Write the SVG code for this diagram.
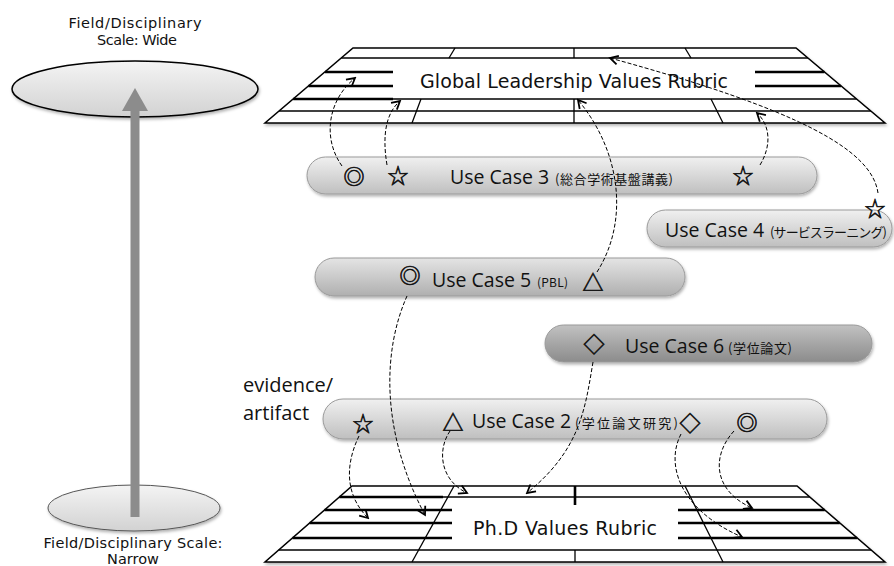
<svg xmlns="http://www.w3.org/2000/svg" width="894" height="566" viewBox="0 0 894 566">
<defs>
<linearGradient id="gLight" x1="0" y1="0" x2="0" y2="1">
<stop offset="0" stop-color="#f0f0f0"/><stop offset="0.5" stop-color="#d8d8d8"/><stop offset="1" stop-color="#bfbfbf"/>
</linearGradient>
<linearGradient id="gMid" x1="0" y1="0" x2="0" y2="1">
<stop offset="0" stop-color="#e4e4e4"/><stop offset="0.5" stop-color="#cacaca"/><stop offset="1" stop-color="#afafaf"/>
</linearGradient>
<linearGradient id="gDark" x1="0" y1="0" x2="0" y2="1">
<stop offset="0" stop-color="#c2c2c2"/><stop offset="0.5" stop-color="#a6a6a6"/><stop offset="1" stop-color="#8c8c8c"/>
</linearGradient>
<linearGradient id="gEll" x1="0" y1="0" x2="0" y2="1">
<stop offset="0" stop-color="#f4f4f4"/><stop offset="1" stop-color="#d2d2d2"/>
</linearGradient>
<filter id="sh" x="-5%" y="-20%" width="110%" height="160%">
<feDropShadow dx="1" dy="2" stdDeviation="1.5" flood-color="#000" flood-opacity="0.3"/>
</filter>
<marker id="ah" viewBox="-10 -6 12 12" refX="0" refY="0" markerWidth="12" markerHeight="12" markerUnits="userSpaceOnUse" orient="auto">
<path d="M-8,-4.5 L0,0 L-8,4.5" fill="none" stroke="#000" stroke-width="1.8"/>
</marker>
</defs>
<style>
.conn{fill:none;stroke:#000;stroke-width:1;stroke-dasharray:4 2;marker-end:url(#ah)}
.bar{stroke:#9a9a9a;stroke-width:1;filter:url(#sh)}
.uc{font-family:"Open Sans",sans-serif;font-size:19.5px;fill:#111}
.sm{font-family:"Noto Sans CJK JP",sans-serif;font-size:13px;fill:#111}
.sym{font-family:"Noto Sans CJK JP",sans-serif;font-size:21px;text-anchor:middle;dominant-baseline:central;fill:#111;stroke:#111;stroke-width:0.6}
.lbl{font-family:"DejaVu Sans",sans-serif;font-size:14.5px;fill:#111;text-anchor:middle}
.rt{font-family:"DejaVu Sans",sans-serif;font-size:19px;fill:#111}
.thin{stroke:#000;stroke-width:1.3;fill:none}
.thick{stroke:#000;stroke-width:2.6;fill:none}
.ev{font-family:"Open Sans",sans-serif;font-size:20px;fill:#111}
</style>

<g id="scale-wide">
<text class="lbl" x="135" y="28" textLength="133">Field/Disciplinary</text>
<text class="lbl" x="137" y="45" textLength="80">Scale: Wide</text>
<ellipse cx="135" cy="89" rx="123" ry="28" fill="url(#gEll)" stroke="#000" stroke-width="1.5" filter="url(#sh)"/>
</g>
<g id="scale-narrow">
<ellipse cx="134" cy="508" rx="86" ry="23" fill="url(#gEll)" stroke="#555" stroke-width="1" filter="url(#sh)"/>
<text class="lbl" x="133" y="548" textLength="179">Field/Disciplinary Scale:</text>
<text class="lbl" x="133" y="564">Narrow</text>
</g>
<g id="scale-arrow">
<line x1="135" y1="517" x2="135" y2="108" stroke="#8c8c8c" stroke-width="9"/>
<polygon points="122,111 148,111 135,88" fill="#8c8c8c"/>
</g>

<g id="rubric-global">
<polygon points="353,48 796,48 885,123 265,123" fill="#fff" stroke="#000" stroke-width="1.5" filter="url(#sh)"/>
<line class="thin" x1="341.3" y1="58" x2="807.9" y2="58"/>
<line class="thin" x1="293.2" y1="99" x2="856.5" y2="99"/>
<line class="thin" x1="279.1" y1="111" x2="870.8" y2="111"/>
<line class="thick" x1="325" y1="72" x2="393" y2="72"/>
<line class="thick" x1="308.4" y1="86" x2="393" y2="86"/>
<line class="thick" x1="293.2" y1="99" x2="393" y2="99"/>
<line class="thick" x1="755" y1="72" x2="824.5" y2="72"/>
<line class="thick" x1="755" y1="86" x2="841.1" y2="86"/>
<line class="thin" x1="455" y1="48" x2="449" y2="58"/>
<line class="thin" x1="574" y1="48" x2="574" y2="58"/>
<line class="thin" x1="685" y1="48" x2="691" y2="58"/>
<line class="thin" x1="421" y1="99" x2="412" y2="123"/>
<line class="thin" x1="574" y1="99" x2="574" y2="123"/>
<line class="thin" x1="711" y1="99" x2="723" y2="123"/>
<text class="rt" x="420" y="88" textLength="308">Global Leadership Values Rubric</text>
</g>

<g id="rubric-phd">
<polygon points="352,486 797,486 885,562 265,562" fill="#fff" stroke="#000" stroke-width="1.5" filter="url(#sh)"/>
<line class="thin" x1="339.4" y1="497" x2="809.7" y2="497"/>
<line class="thin" x1="278.7" y1="550" x2="871.1" y2="550"/>
<line class="thick" x1="339.4" y1="497" x2="443" y2="497"/>
<line class="thick" x1="324.5" y1="510" x2="452" y2="510"/>
<line class="thick" x1="309.6" y1="523" x2="452" y2="523"/>
<line class="thick" x1="292.5" y1="538" x2="452" y2="538"/>
<line class="thick" x1="678" y1="510" x2="824.8" y2="510"/>
<line class="thick" x1="678" y1="523" x2="839.8" y2="523"/>
<line class="thick" x1="678" y1="538" x2="857.2" y2="538"/>
<line class="thin" x1="454" y1="486" x2="412" y2="562"/>
<line class="thin" x1="685" y1="486" x2="723" y2="562"/>
<line class="thick" x1="575" y1="486" x2="575" y2="505"/>
<line class="thin" x1="575" y1="550" x2="575" y2="562"/>
<text class="rt" x="473" y="535" textLength="184">Ph.D Values Rubric</text>
</g>

<g id="use-case-3">
<rect class="bar" x="307" y="157" width="510" height="37" rx="18.5" fill="url(#gLight)"/>
<text class="sym" x="354" y="175">◎</text>
<text class="sym" x="398" y="174">☆</text>
<text class="sym" x="743" y="174">☆</text>
<text class="uc" x="450" y="184">Use Case 3</text>
<text class="sm" x="555" y="184" textLength="118">(総合学術基盤講義)</text>
</g>
<g id="use-case-4">
<rect class="bar" x="647" y="210" width="245" height="37" rx="18.5" fill="url(#gLight)"/>
<text class="sym" x="875" y="207">☆</text>
<text class="uc" x="665" y="237">Use Case 4</text>
<text class="sm" x="770" y="237" textLength="117">(サービスラーニング)</text>
</g>
<g id="use-case-5">
<rect class="bar" x="315" y="258" width="370" height="38" rx="19" fill="url(#gMid)"/>
<text class="sym" x="410" y="274">◎</text>
<text class="uc" x="432" y="287">Use Case 5</text>
<text class="sm" x="537" y="287" textLength="31" style="font-size:12px">(PBL)</text>
<text class="sym" x="593" y="281">△</text>
</g>
<g id="use-case-6">
<rect class="bar" x="545" y="325" width="327" height="37" rx="18.5" fill="url(#gDark)"/>
<text class="sym" x="594" y="343">◇</text>
<text class="uc" x="625" y="353">Use Case 6</text>
<text class="sm" x="728" y="353" textLength="64">(学位論文)</text>
</g>
<g id="evidence-label">
<text class="ev" x="243" y="392">evidence/</text>
<text class="ev" x="243" y="420">artifact</text>
</g>
<g id="use-case-2">
<rect class="bar" x="323" y="399" width="504" height="40" rx="20" fill="url(#gLight)"/>
<text class="sym" x="363" y="422">☆</text>
<text class="sym" x="453" y="421">△</text>
<text class="uc" x="472" y="428">Use Case 2</text>
<text class="sm" x="575" y="428" textLength="103">(学位論文研究)</text>
<text class="sym" x="690" y="422">◇</text>
<text class="sym" x="747" y="421">◎</text>
</g>

<g id="connectors">
<path class="conn" d="M342,166 C322,138 328,100 355,78"/>
<path class="conn" d="M387,165 C382,135 386,113 400,101"/>
<path class="conn" d="M597,272 C630,220 620,150 578,100"/>
<path class="conn" d="M760,165 C772,145 770,125 757,113"/>
<path class="conn" d="M878,193 C872,150 800,110 610,58"/>
<path class="conn" d="M407,296 C383,350 380,430 425,515"/>
<path class="conn" d="M593,362 C585,410 580,450 527,493"/>
<path class="conn" d="M359,436 C345,465 345,495 368,518"/>
<path class="conn" d="M450,431 C437,450 440,480 467,493"/>
<path class="conn" d="M681,434 C665,465 680,510 742,537"/>
<path class="conn" d="M734,431 C712,455 712,490 752,508"/>
</g>
</svg>
